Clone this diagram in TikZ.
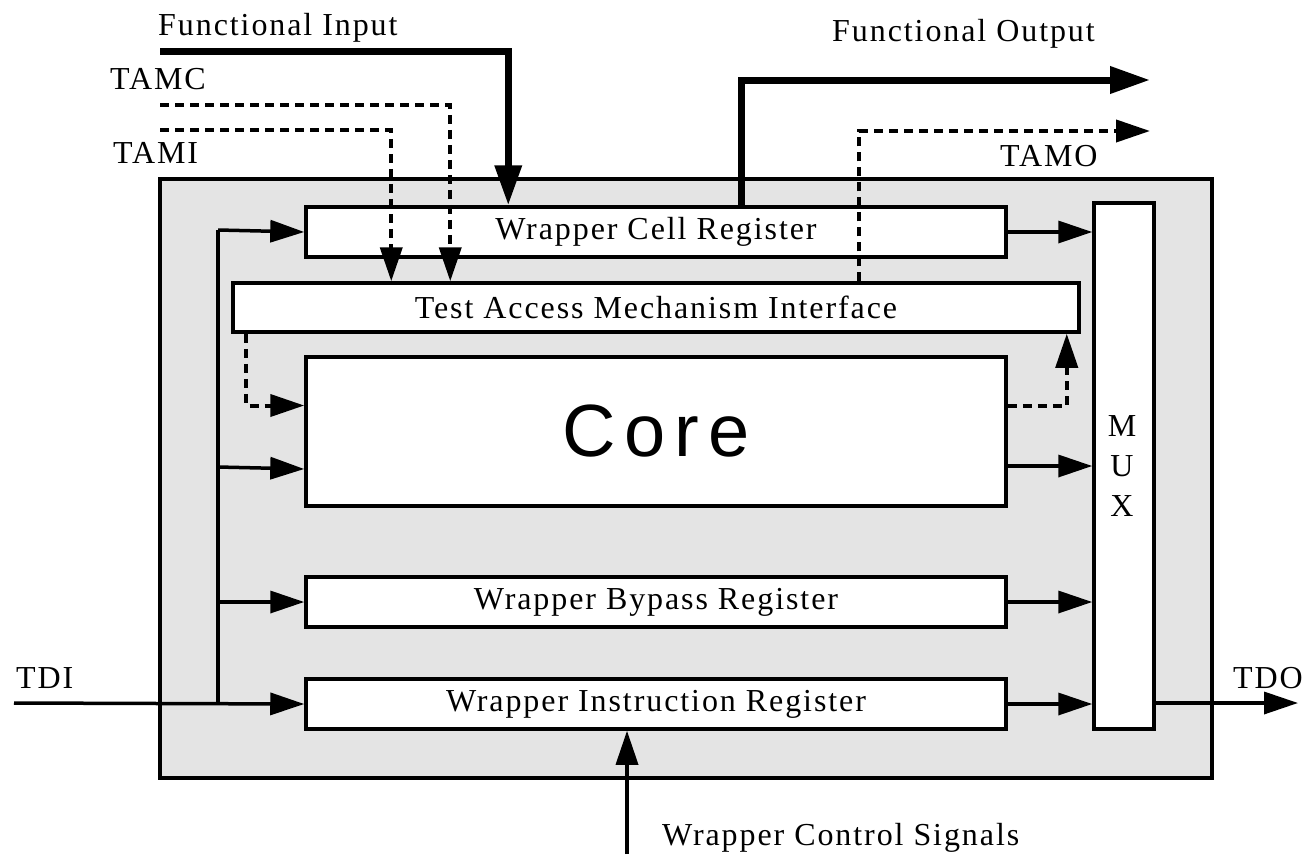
\documentclass[tikz,border=0pt]{standalone}
\usepackage{fontspec}
\setmainfont{Liberation Serif}
\newfontfamily\coresans[LetterSpace=12]{Liberation Sans}
\usetikzlibrary{arrows.meta,calc}
\definecolor{bgray}{RGB}{228,228,228}
\begin{document}
\begin{tikzpicture}[x=1pt,y=-1pt,
  lbl/.style={font=\fontsize{32pt}{38pt}\selectfont\addfontfeature{LetterSpace=6}, inner sep=0pt},
  blk/.style={draw, line width=3.5pt, fill=white, inner sep=0pt, lbl},
  arr/.style={line width=3.5pt, -{Triangle[length=34pt,width=22pt]}},
  darr/.style={line width=4pt, dash pattern=on 9pt off 6pt, -{Triangle[length=34pt,width=22pt]}},
  tarr/.style={line width=7pt, -{Triangle[length=40pt,width=26pt]}},
]
\useasboundingbox (0,0) rectangle (1311,854);
\node[draw, line width=3.5pt, fill=bgray, minimum width=1052pt, minimum height=599pt] (wrap) at (686,478.5) {};
\node[blk, minimum width=700pt, minimum height=50pt] (wcr) at (656,232) {Wrapper Cell Register};
\node[blk, minimum width=846pt, minimum height=49pt] (tam) at (656,307.5) {Test Access Mechanism Interface};
\node[blk, minimum width=700pt, minimum height=149pt, font=\coresans\fontsize{74pt}{80pt}\selectfont] (core) at (656,431.5) {Core};
\node[blk, minimum width=60pt, minimum height=526pt] (mux) at (1124,466) {};
\node[blk, minimum width=700pt, minimum height=50pt] (wbr) at (656,602) {Wrapper Bypass Register};
\node[blk, minimum width=700pt, minimum height=50pt] (wir) at (656,704) {Wrapper Instruction Register};
\node[lbl, align=center, font=\fontsize{32pt}{40pt}\selectfont] (muxt) at (1122,466) {M\\U\\X};

% labels
\node[lbl, anchor=base west] (tfi) at (158,35) {Functional Input};
\node[lbl, anchor=base west] (ttamc) at (110,89) {TAMC};
\node[lbl, anchor=base west] (ttami) at (113,163) {TAMI};
\node[lbl, anchor=base west] (tfo) at (832,41) {Functional Output};
\node[lbl, anchor=base west] (ttamo) at (1000,166) {TAMO};
\node[lbl, anchor=base west] (ttdi) at (16,688) {TDI};
\node[lbl, anchor=base west] (ttdo) at (1233,688) {TDO};
\node[lbl, anchor=base west] (twcs) at (662,845) {Wrapper Control Signals};

% coordinates
\coordinate (tdi) at (14,703);
\coordinate (bus) at (218,703);
\coordinate (bustop) at (218,230);
\coordinate (tdo) at (1298,703);
\coordinate (wcs) at (627,854);
\coordinate (fi) at (160,51);
\coordinate (fo) at (1150,80);
\coordinate (tamc) at (160,105);
\coordinate (tami) at (160,130);
\coordinate (tamo) at (1150,131);

% TDI bus
\draw[arr] (tdi) -- (wir.west);
\draw[line width=3.5pt] (bus) -- (bustop);
\draw[arr] (bustop) -- (wcr.west);
\draw[arr] (bus |- 0,467) -- (core.west |- 0,469);
\draw[arr] (bus |- wbr.west) -- (wbr.west);

% to MUX
\draw[arr] (wcr.east) -- (mux.west |- wcr.east);
\draw[arr] (mux.west -| core.east) -- (mux.west);
\draw[arr] (wbr.east) -- (mux.west |- wbr.east);
\draw[arr] (wir.east) -- (mux.west |- wir.east);
\draw[arr] (mux.east |- tdo) -- (tdo);
\draw[arr] (wcs) -- (wir.south -| wcs);

% dashed TAM links
\draw[darr] ([xshift=15pt]tam.south west) |- ([yshift=26pt]core.west);
\draw[darr] ([yshift=26pt]core.east) -| ([xshift=-14pt]tam.south east);
\draw[darr] (tamc) -| ([xshift=219pt]tam.north west);
\draw[darr] (tami) -| ([xshift=160pt]tam.north west);
\draw[darr] ([xshift=628pt]tam.north west) |- (tamo);

% functional
\draw[tarr] (fi) -| ([xshift=204pt]wcr.north west);
\draw[tarr] ([xshift=437pt]wcr.north west) |- (fo);
\end{tikzpicture}
\end{document}
